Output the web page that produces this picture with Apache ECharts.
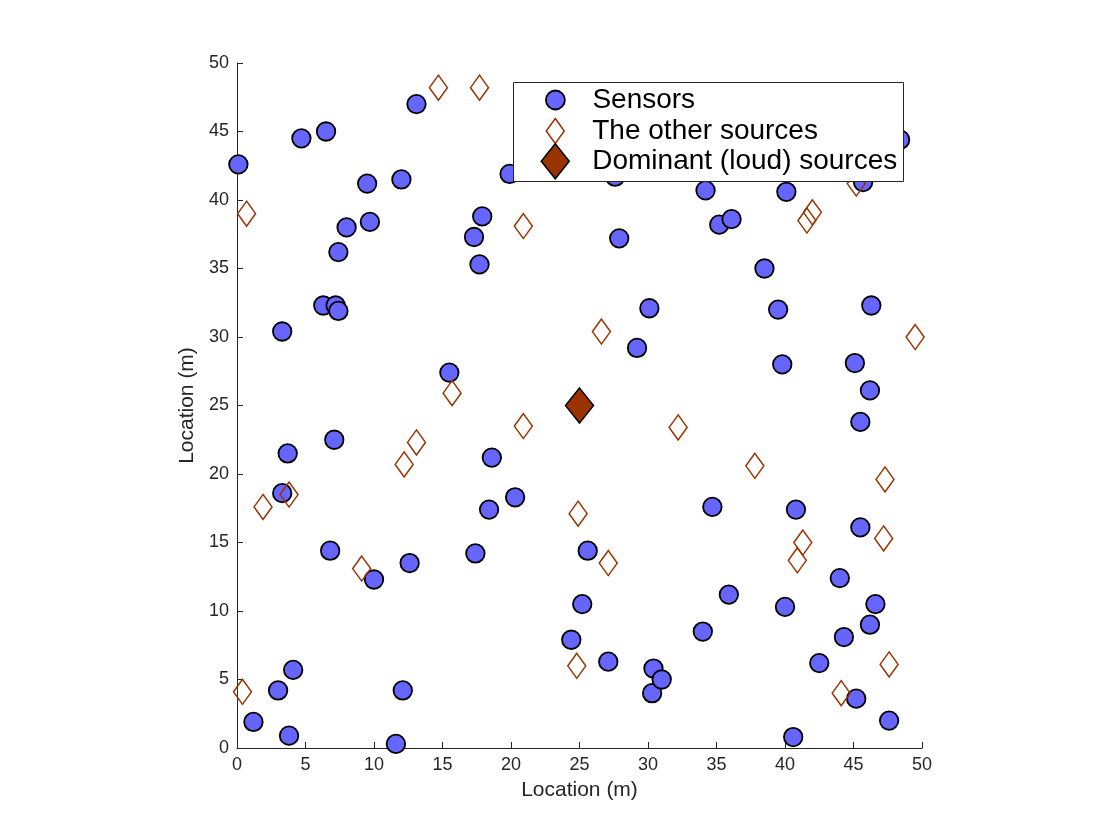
<!DOCTYPE html>
<html>
<head>
<meta charset="utf-8">
<script src="https://cdn.jsdelivr.net/npm/echarts@6/dist/echarts.min.js"></script>
<style>
  html, body { margin: 0; padding: 0; background: #fff; }
  #chart { width: 1120px; height: 840px; }
</style>
</head>
<body>
<div id="chart"></div>
<script>
// sensor positions (m)
const sensorX = [0.1, 4.7, 6.5, 13.1, 9.5, 12.0, 9.7, 8.0, 7.4, 6.3, 7.2, 7.4, 3.3, 17.3, 17.9, 17.7, 19.9, 27.6,
  27.9, 34.2, 35.2, 36.1, 40.1, 38.5, 30.1, 29.2, 39.5, 39.8, 45.7, 48.4, 46.3, 45.1, 46.2, 45.5, 45.5, 40.8,
  34.7, 15.5, 7.1, 3.7, 3.3, 18.6, 20.3, 18.4, 17.4, 6.8, 12.6, 10.0, 25.6, 25.2, 24.4, 27.1, 30.4, 30.3,
  31.0, 34.0, 35.9, 40.0, 44.0, 46.6, 46.2, 44.3, 42.5, 45.2, 47.6, 40.6, 11.6, 12.1, 3.8, 3.0, 4.1, 1.2];
const sensorY = [42.6, 44.5, 45.0, 47.0, 41.2, 41.5, 38.4, 38.0, 36.2, 32.3, 32.3, 31.9, 30.4, 37.3, 38.8, 35.3, 41.9, 41.7,
  37.2, 40.7, 38.2, 38.6, 40.6, 35.0, 32.1, 29.2, 32.0, 28.0, 41.3, 44.4, 32.3, 28.1, 26.1, 23.8, 16.1, 17.4,
  17.6, 27.4, 22.5, 21.5, 18.6, 21.2, 18.3, 17.4, 14.2, 14.4, 13.5, 12.3, 14.4, 10.5, 7.9, 6.3, 5.8, 4.0,
  5.0, 8.5, 11.2, 10.3, 12.4, 10.5, 9.0, 8.1, 6.2, 3.6, 2.0, 0.8, 0.3, 4.2, 0.9, 4.2, 5.7, 1.9];

// the other (quiet) sources
const otherX = [14.7, 17.7, 0.7, 20.9, 41.6, 42.0, 45.2, 49.5, 26.6, 15.7, 20.9, 13.1, 12.2, 32.2,
  37.8, 47.3, 1.9, 3.8, 24.9, 41.3, 40.9, 47.2, 9.1, 27.1, 24.8, 0.4, 44.1, 47.6];
const otherY = [48.2, 48.2, 39.0, 38.1, 38.5, 39.1, 41.2, 30.0, 30.4, 25.9, 23.5, 22.3, 20.7, 23.4,
  20.6, 19.6, 17.6, 18.5, 17.1, 15.0, 13.7, 15.3, 13.1, 13.5, 6.0, 4.1, 4.0, 6.1];

// dominant (loud) source
const loudX = [25];
const loudY = [25];

const seriesNames = ['Sensors', 'The other sources', 'Dominant (loud) sources'];
const axisTitle = 'Location (m)';

const FONT = '"Liberation Sans", Arial, Helvetica, sans-serif';
const AXIS_COLOR = '#262626';
const SENSOR_COLOR = '#6666ff';
const SOURCE_COLOR = '#993300';

const pairs = (xs, ys) => xs.map((x, i) => [x, ys[i]]);

const axisCommon = {
  type: 'value',
  min: 0,
  max: 50,
  interval: 5,
  name: axisTitle,
  nameLocation: 'middle',
  nameTextStyle: { fontSize: 21, color: AXIS_COLOR, fontFamily: FONT },
  axisLine: { show: true, lineStyle: { color: AXIS_COLOR, width: 1 } },
  axisTick: { show: true, inside: true, length: 6, lineStyle: { color: AXIS_COLOR, width: 1 } },
  axisLabel: { fontSize: 18, color: AXIS_COLOR, fontFamily: FONT },
  splitLine: { show: false }
};

// legend icons sit centred at x=555, text starts at x=592
const legendBase = {
  orient: 'vertical',
  itemWidth: 64,
  padding: 0,
  selectedMode: false,
  symbolKeepAspect: true,
  z: 20,
  textStyle: { fontSize: 28, color: '#000', fontFamily: FONT, lineHeight: 20 }
};

const chart = echarts.init(document.getElementById('chart'));
chart.setOption({
  backgroundColor: '#fff',
  animation: false,
  grid: { left: 237, right: 198, top: 63, bottom: 92 },
  xAxis: Object.assign({}, axisCommon, {
    nameGap: 32,
    axisLabel: Object.assign({}, axisCommon.axisLabel, { margin: 8 })
  }),
  yAxis: Object.assign({}, axisCommon, {
    nameGap: 38,
    axisLabel: Object.assign({}, axisCommon.axisLabel, { margin: 8 })
  }),
  graphic: [{
    type: 'rect',
    left: 513,
    top: 82,
    z: 10,
    shape: { width: 390, height: 99 },
    style: { fill: '#fff', stroke: AXIS_COLOR, lineWidth: 1 }
  }],
  legend: [
    Object.assign({}, legendBase, {
      left: 545, top: 86, itemHeight: 19,
      data: [{ name: seriesNames[0], icon: 'circle',
        itemStyle: { color: SENSOR_COLOR, borderColor: '#000', borderWidth: 1.8 } }]
    }),
    Object.assign({}, legendBase, {
      left: 545.5, top: 117, itemHeight: 25,
      data: [{ name: seriesNames[1], icon: 'path://M9,0L18,12.5L9,25L0,12.5Z',
        itemStyle: { color: 'rgba(0,0,0,0)', borderColor: SOURCE_COLOR, borderWidth: 1.5 } }]
    }),
    Object.assign({}, legendBase, {
      left: 540.5, top: 143, itemHeight: 35,
      data: [{ name: seriesNames[2], icon: 'path://M14,0L28,17.5L14,35L0,17.5Z',
        itemStyle: { color: SOURCE_COLOR, borderColor: '#000', borderWidth: 1.5 } }]
    })
  ],
  series: [
    {
      name: seriesNames[0],
      type: 'scatter',
      symbol: 'circle',
      symbolSize: 18.5,
      itemStyle: { color: SENSOR_COLOR, borderColor: '#000', borderWidth: 1.8, opacity: 1 },
      emphasis: { disabled: true },
      data: pairs(sensorX, sensorY)
    },
    {
      name: seriesNames[1],
      type: 'scatter',
      symbol: 'diamond',
      symbolSize: [18, 25],
      itemStyle: { color: 'rgba(0,0,0,0)', borderColor: SOURCE_COLOR, borderWidth: 1.5, opacity: 1 },
      emphasis: { disabled: true },
      data: pairs(otherX, otherY)
    },
    {
      name: seriesNames[2],
      type: 'scatter',
      symbol: 'diamond',
      symbolSize: [28, 35],
      itemStyle: { color: SOURCE_COLOR, borderColor: '#000', borderWidth: 1.5, opacity: 1 },
      emphasis: { disabled: true },
      data: pairs(loudX, loudY)
    }
  ]
});
</script>
</body>
</html>
